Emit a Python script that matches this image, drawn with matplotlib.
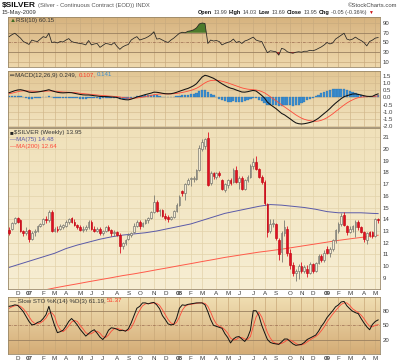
import numpy as np
import pandas as pd
import matplotlib
matplotlib.use("Agg")
import matplotlib.pyplot as plt
import matplotlib.dates as mdates

plt.rcParams['font.family'] = ['Liberation Sans', 'DejaVu Sans']

# weekly bars (week start), Nov 2006 - May 2009
weeks = pd.date_range("2006-11-13", periods=131, freq="7D")

opens = [13.1, 13.2, 13.7, 14.1, 13.9, 13.0, 12.8, 13.1, 12.3, 12.9, 13.0, 13.4, 13.6, 14.0, 13.9, 14.6,
         13.0, 13.2, 13.2, 13.3, 13.4, 13.8, 14.1, 13.8, 13.5, 13.3, 13.1, 13.2, 13.3, 13.8, 13.2, 13.0,
         13.2, 12.8, 13.0, 13.3, 13.1, 12.8, 12.9, 12.7, 11.7, 12.0, 12.3, 12.7, 12.9, 13.4, 13.8, 13.4,
         13.7, 13.9, 14.1, 14.6, 15.5, 14.7, 14.8, 14.3, 14.2, 14.0, 14.2, 14.7, 15.2, 16.4, 16.2, 17.0,
         17.4, 17.4, 17.4, 18.2, 20.0, 20.2, 20.9, 17.1, 17.9, 17.6, 17.9, 17.3, 16.5, 16.9, 17.3, 17.2,
         18.2, 17.2, 17.5, 16.6, 17.3, 17.6, 18.5, 18.9, 18.3, 17.6, 17.2, 15.3, 13.0, 13.6, 13.6, 12.2,
         11.2, 12.8, 13.2, 11.1, 10.1, 9.4, 9.6, 10.0, 9.6, 9.8, 9.4, 10.2, 9.6, 10.3, 10.9, 10.5,
         11.5, 11.1, 11.5, 12.2, 13.0, 13.6, 14.4, 13.4, 12.9, 13.2, 13.3, 13.8, 13.3, 12.9, 12.2, 12.9,
         12.9, 12.6, 14.0]
highs = [13.3, 13.8, 14.2, 14.2, 14.0, 13.1, 13.3, 13.2, 13.0, 13.2, 13.5, 13.7, 14.1, 14.3, 14.8, 14.8,
         13.3, 13.4, 13.6, 13.6, 13.9, 14.1, 14.2, 14.0, 13.6, 13.5, 13.4, 13.5, 13.9, 13.9, 13.4, 13.3,
         13.3, 13.1, 13.4, 13.5, 13.2, 13.1, 13.0, 12.8, 12.1, 12.3, 12.8, 12.9, 13.7, 13.9, 13.9, 13.8,
         14.0, 14.2, 14.7, 16.1, 15.6, 14.9, 14.9, 14.5, 14.4, 14.3, 14.8, 15.4, 16.1, 16.5, 17.1, 17.5,
         17.6, 17.7, 18.3, 20.3, 20.8, 20.9, 21.4, 18.1, 18.0, 18.0, 18.1, 17.4, 17.1, 17.4, 17.5, 18.4,
         18.5, 17.7, 17.7, 17.4, 17.8, 18.7, 19.2, 19.4, 18.4, 17.8, 17.3, 15.4, 14.0, 14.0, 13.7, 12.4,
         13.0, 13.9, 13.4, 11.5, 10.4, 9.8, 10.2, 10.4, 10.1, 10.1, 10.4, 10.3, 10.4, 11.0, 11.0, 11.4,
         11.7, 11.6, 12.3, 13.2, 13.8, 14.5, 14.6, 13.5, 13.4, 13.5, 13.9, 13.9, 13.4, 13.0, 12.9, 13.0,
         13.0, 14.1, 14.1]
lows = [12.7, 13.1, 13.6, 13.7, 12.9, 12.6, 12.7, 12.1, 12.2, 12.6, 12.9, 13.3, 13.5, 13.7, 13.8, 12.9,
        12.9, 12.9, 13.1, 13.2, 13.3, 13.6, 13.7, 13.4, 13.2, 13.0, 12.9, 13.0, 13.2, 13.1, 12.9, 12.9,
        12.7, 12.7, 12.9, 13.0, 12.6, 12.6, 12.6, 11.1, 11.5, 11.8, 12.2, 12.5, 12.8, 13.3, 13.2, 13.3,
        13.6, 13.7, 14.0, 14.5, 14.6, 14.3, 14.2, 13.9, 13.8, 13.9, 14.1, 14.6, 15.1, 16.0, 15.6, 16.9,
        16.8, 17.2, 17.3, 18.1, 19.8, 20.0, 16.8, 16.9, 17.4, 17.4, 17.6, 16.5, 16.3, 16.7, 16.9, 17.1,
        17.1, 16.6, 16.5, 16.5, 17.2, 17.5, 18.3, 18.2, 17.5, 17.0, 15.2, 12.5, 12.8, 13.3, 12.2, 10.5,
        10.4, 12.6, 10.9, 9.8, 9.2, 8.7, 8.9, 9.4, 9.4, 9.1, 9.3, 9.4, 9.5, 10.2, 10.4, 10.4,
        11.0, 10.8, 11.3, 12.0, 12.8, 13.4, 13.4, 12.7, 12.8, 12.9, 12.5, 13.1, 12.8, 12.1, 11.9, 12.5,
        12.4, 12.5, 13.7]
closes = [12.8, 13.7, 14.1, 13.8, 13.0, 12.8, 13.0, 12.3, 12.8, 13.0, 13.4, 13.6, 14.0, 13.9, 14.6, 13.0,
          13.2, 13.1, 13.4, 13.5, 13.8, 14.0, 13.8, 13.5, 13.3, 13.1, 13.2, 13.3, 13.8, 13.2, 13.0, 13.2,
          12.8, 13.0, 13.3, 13.1, 12.8, 12.9, 12.7, 11.7, 12.0, 12.2, 12.7, 12.8, 13.4, 13.8, 13.4, 13.7,
          13.9, 14.1, 14.6, 15.5, 14.7, 14.8, 14.3, 14.1, 14.0, 14.2, 14.7, 15.2, 15.9, 16.2, 17.0, 17.3,
          17.5, 17.5, 18.2, 20.1, 20.6, 20.8, 16.9, 17.9, 17.7, 17.9, 17.8, 16.6, 17.0, 17.3, 17.1, 18.2,
          17.2, 17.5, 16.6, 17.3, 17.6, 18.5, 18.9, 18.3, 17.6, 17.2, 15.4, 12.9, 13.6, 13.7, 12.4, 11.0,
          12.8, 13.3, 11.1, 10.1, 9.4, 9.6, 10.0, 9.6, 9.9, 9.4, 10.2, 9.6, 10.3, 10.9, 10.5, 11.1,
          11.1, 11.5, 12.2, 13.1, 13.6, 14.3, 13.5, 12.9, 13.2, 13.4, 13.8, 13.3, 12.9, 12.3, 12.8, 12.7,
          12.6, 14.0, 13.95]

# moving averages, read every 4th week plus the last one
ma_idx = list(range(0, 131, 4)) + [130]
ma75 = [9.9, 10.2, 10.5, 10.8, 11.1, 11.5, 11.8, 12.05, 12.3, 12.5, 12.65, 12.75, 12.85, 13.0, 13.2, 13.4,
        13.6, 13.9, 14.2, 14.5, 14.7, 14.9, 15.1, 15.25, 15.2, 15.1, 15.0, 14.85, 14.65, 14.55, 14.55, 14.55,
        14.5, 14.48]
ma200 = [np.nan, np.nan, np.nan, 7.95, 8.15, 8.33, 8.5, 8.68, 8.85, 9.02, 9.2, 9.35, 9.52, 9.7, 9.87, 10.05,
         10.22, 10.4, 10.57, 10.75, 10.9, 11.05, 11.2, 11.32, 11.45, 11.6, 11.75, 11.9, 12.05, 12.2, 12.33, 12.45,
         12.57, 12.64]

rsi = [62, 66, 69, 64, 59, 52, 49, 46, 55, 53, 52, 57, 62, 60, 69, 50, 51, 49, 52, 51, 55, 58, 52, 50, 49, 48,
       47, 45, 54, 45, 47, 48, 40, 44, 48, 47, 45, 50, 42, 36, 41, 44, 46, 55, 59, 62, 55, 57, 59, 62, 66, 72,
       57, 58, 55, 52, 50, 55, 59, 64, 69, 71, 70, 73, 74, 76, 80, 88, 90, 89, 48, 55, 53, 54, 52, 45, 48, 50,
       52, 57, 50, 52, 48, 53, 55, 58, 61, 55, 53, 52, 40, 29, 33, 32, 31, 24, 38, 36, 31, 29, 28, 30, 31, 30,
       32, 32, 34, 33, 35, 38, 41, 45, 50, 47, 49, 57, 61, 65, 69, 57, 55, 57, 61, 57, 54, 50, 43, 52, 55, 59,
       60.15]

macd = [0.33, 0.40, 0.47, 0.52, 0.54, 0.50, 0.44, 0.37, 0.35, 0.36, 0.38, 0.41, 0.45, 0.49, 0.54, 0.47, 0.41,
        0.36, 0.33, 0.32, 0.33, 0.34, 0.33, 0.29, 0.25, 0.21, 0.18, 0.17, 0.17, 0.15, 0.12, 0.10, 0.07, 0.06,
        0.06, 0.05, 0.03, 0.02, 0.00, -0.08, -0.13, -0.16, -0.17, -0.12, -0.05, 0.03, 0.08, 0.14, 0.20, 0.25,
        0.30, 0.37, 0.36, 0.33, 0.29, 0.26, 0.25, 0.26, 0.30, 0.36, 0.43, 0.50, 0.57, 0.63, 0.72, 0.82, 0.96,
        1.20, 1.43, 1.55, 1.50, 1.42, 1.34, 1.22, 1.08, 0.95, 0.84, 0.73, 0.65, 0.60, 0.52, 0.45, 0.38, 0.37,
        0.40, 0.45, 0.49, 0.45, 0.30, 0.14, -0.05, -0.33, -0.50, -0.64, -0.78, -0.95, -1.12, -1.22, -1.36,
        -1.50, -1.65, -1.78, -1.84, -1.86, -1.84, -1.80, -1.75, -1.69, -1.58, -1.45, -1.28, -1.12, -0.96,
        -0.78, -0.58, -0.40, -0.24, -0.08, 0.05, 0.12, 0.18, 0.24, 0.25, 0.21, 0.17, 0.12, 0.08, 0.07, 0.08,
        0.18, 0.249]
signal = [0.26, 0.30, 0.35, 0.40, 0.44, 0.46, 0.46, 0.45, 0.44, 0.43, 0.42, 0.42, 0.43, 0.44, 0.45, 0.45,
          0.44, 0.42, 0.40, 0.38, 0.37, 0.36, 0.35, 0.34, 0.32, 0.29, 0.27, 0.25, 0.23, 0.21, 0.19, 0.17,
          0.15, 0.13, 0.12, 0.10, 0.09, 0.07, 0.06, 0.03, 0.00, -0.03, -0.05, -0.06, -0.06, -0.04, -0.01,
          0.02, 0.06, 0.10, 0.14, 0.19, 0.22, 0.24, 0.25, 0.25, 0.25, 0.25, 0.26, 0.28, 0.31, 0.35, 0.39,
          0.44, 0.49, 0.56, 0.64, 0.75, 0.89, 1.02, 1.12, 1.18, 1.20, 1.20, 1.18, 1.13, 1.08, 1.02, 0.95,
          0.88, 0.81, 0.74, 0.67, 0.62, 0.58, 0.56, 0.54, 0.52, 0.48, 0.41, 0.32, 0.19, 0.05, -0.09, -0.23,
          -0.37, -0.52, -0.66, -0.80, -0.94, -1.08, -1.22, -1.34, -1.45, -1.53, -1.59, -1.63, -1.66, -1.67,
          -1.65, -1.60, -1.52, -1.42, -1.29, -1.15, -0.99, -0.84, -0.68, -0.53, -0.39, -0.27, -0.17, -0.08,
          -0.02, 0.02, 0.04, 0.05, 0.06, 0.06, 0.08, 0.107]

sto_k = [89, 90, 92, 91, 85, 78, 68, 58, 51, 52, 56, 58, 64, 72, 89, 68, 50, 35, 37, 40, 48, 58, 64, 58, 51,
         42, 35, 28, 33, 38, 41, 34, 26, 21, 28, 40, 45, 44, 42, 39, 40, 38, 43, 55, 70, 85, 89, 96, 96, 94,
         96, 97, 92, 84, 70, 62, 53, 51, 52, 65, 85, 92, 91, 93, 94, 95, 96, 96, 96, 92, 78, 62, 50, 48, 46,
         44, 33, 25, 14, 22, 26, 27, 22, 17, 25, 40, 80, 80, 70, 50, 35, 21, 15, 13, 12, 11, 16, 22, 22, 17,
         12, 9, 10, 11, 15, 21, 24, 27, 30, 38, 48, 56, 66, 73, 80, 88, 92, 98, 99, 90, 84, 79, 76, 74, 64,
         55, 47, 41, 52, 58, 61.19]
sto_d = [85, 88, 90, 91, 89, 84, 77, 68, 59, 54, 53, 55, 59, 65, 75, 76, 69, 51, 41, 37, 42, 49, 57, 60, 58,
         50, 43, 35, 32, 33, 37, 38, 34, 27, 25, 30, 38, 43, 44, 42, 40, 39, 40, 45, 56, 70, 81, 90, 94, 95,
         95, 96, 95, 91, 82, 72, 62, 55, 52, 56, 67, 81, 89, 92, 93, 94, 95, 96, 96, 95, 89, 77, 63, 53, 48,
         46, 41, 34, 24, 20, 21, 25, 25, 22, 21, 27, 48, 67, 77, 67, 52, 35, 24, 16, 13, 12, 13, 16, 20, 20,
         17, 13, 10, 10, 12, 16, 20, 24, 27, 32, 39, 47, 57, 65, 73, 80, 87, 93, 96, 96, 91, 84, 80, 76, 71,
         64, 55, 48, 47, 50, 51.37]

W, H = 400, 363
fig = plt.figure(figsize=(W / 100, H / 100), dpi=100)
fig.patch.set_facecolor('white')
renderer = fig.canvas.get_renderer()


def panel(y0, y1):
    return fig.add_axes([8 / W, 1 - y1 / H, 372 / W, (y1 - y0) / H])


def shade(ax, top, bottom):
    t = np.linspace(0, 1, 64)[:, None, None]
    img = (np.array(top)[None, None, :] * (1 - t) + np.array(bottom)[None, None, :] * t) / 255.0
    ax.imshow(img, extent=[0, 1, 0, 1], transform=ax.transAxes, aspect='auto', zorder=0,
              interpolation='bilinear')


def chain(xp, yp, parts, size=4.4, gap=1.5, zorder=10):
    # write text pieces one after the other, in figure pixels from top-left
    for s, color, bold, fs in parts:
        t = fig.text(xp / W, 1 - yp / H, s, fontsize=fs or size, color=color, va='center',
                     fontweight='bold' if bold else 'normal', zorder=zorder)
        bb = t.get_window_extent(renderer)
        xp = bb.x1 + gap


x = mdates.date2num(weeks)
x0 = mdates.date2num(pd.Timestamp("2007-01-01") - pd.Timedelta(days=51.8))
x1 = mdates.date2num(pd.Timestamp("2007-01-01") + pd.Timedelta(days=865.6))

# month gridlines at the first bar of each month
mpos, mlab = [], []
for i in range(1, len(weeks)):
    if weeks[i].month != weeks[i - 1].month:
        mpos.append(x[i])
        mlab.append(str(weeks[i].year)[2:] if weeks[i].month == 1 else "JFMAMJJASOND"[weeks[i].month - 1])

ax_rsi = panel(17, 67)
ax_macd = panel(71, 127)
ax_px = panel(128, 289)
ax_sto = panel(297, 354)

shade(ax_rsi, (214, 178, 126), (238, 216, 172))
shade(ax_macd, (226, 198, 148), (242, 228, 192))
shade(ax_px, (240, 225, 186), (247, 238, 211))
shade(ax_sto, (240, 222, 178), (212, 172, 118))

for ax, grid_c in [(ax_rsi, '#c9ab7e'), (ax_macd, '#d2b88c'), (ax_px, '#e2d2aa'), (ax_sto, '#c9a878')]:
    ax.set_xlim(x0, x1)
    for p in mpos:
        ax.axvline(p, color=grid_c, lw=0.5, zorder=1)
    for s in ax.spines.values():
        s.set_color('#9a8868')
        s.set_linewidth(0.6)
    ax.yaxis.tick_right()
    ax.tick_params(axis='y', length=0, pad=2, labelsize=4.3, labelcolor='#3a3a3a')
    ax.tick_params(axis='x', length=0, pad=1.2, labelsize=4.5, labelcolor='#3a3a3a')
    ax.set_xticks(mpos)
    ax.set_xticklabels([])

# ---- RSI ----
ax_rsi.set_ylim(-0.3, 102.3)
ax_rsi.set_yticks([10, 30, 50, 70, 90])
for v in (10, 90):
    ax_rsi.axhline(v, color='#c9ab7e', lw=0.5, zorder=1)
ax_rsi.axhline(70, color='#9a8060', lw=0.6, zorder=1)
ax_rsi.axhline(30, color='#9a8060', lw=0.6, zorder=1)
ax_rsi.axhline(50, color='#9a6a50', lw=0.5, ls=(0, (4, 1.5, 1, 1.5)), zorder=1)
r = np.array(rsi, dtype=float)
ax_rsi.fill_between(x, r, 70, where=r > 70, interpolate=True, color='#4c7a2c', zorder=2, lw=0)
ax_rsi.fill_between(x, r, 30, where=r < 30, interpolate=True, color='#b02020', zorder=2, lw=0)
ax_rsi.plot(x, r, color='#222222', lw=0.55, zorder=3)

# ---- MACD ----
ax_macd.set_ylim(-2.07, 1.85)
mt = [-2.0, -1.5, -1.0, -0.5, 0.0, 0.5, 1.0, 1.5]
ax_macd.set_yticks(mt)
ax_macd.set_yticklabels(["%.1f" % v for v in mt])
for v in mt:
    ax_macd.axhline(v, color='#d2b88c', lw=0.4, zorder=1)
m = np.array(macd)
sg = np.array(signal)
ax_macd.bar(x, m - sg, width=5.5, color='#3a8ccc', edgecolor='#2a70b0', lw=0.2, zorder=2)
ax_macd.plot(x, sg, color='#ff4a3a', lw=0.6, zorder=3)
ax_macd.plot(x, m, color='#111111', lw=0.75, zorder=4)

# ---- price ----
ax_px.set_ylim(8.06, 21.77)
ax_px.set_yticks(range(9, 22))
for v in range(9, 22):
    ax_px.axhline(v, color='#e2d2aa', lw=0.5, zorder=1)
ax_px.plot(x[ma_idx], ma75, color='#5a5aa8', lw=0.7, zorder=2)
ax_px.plot(x[ma_idx], ma200, color='#ff5a4a', lw=0.7, zorder=2)
for xi, o, h, l, c in zip(x, opens, highs, lows, closes):
    down = c < o
    col = '#dd1020' if down else '#7a7a72'
    ax_px.vlines(xi, l, h, color=col, lw=0.6, zorder=3)
    ax_px.bar(xi, max(abs(c - o), 0.04), bottom=min(o, c), width=4.3,
              color='#e01020' if down else '#f4ecd6', edgecolor='#c00a18' if down else '#6e6e68',
              lw=0.45, zorder=4)
ax_px.set_xticklabels(mlab)

# ---- slow stochastic ----
ax_sto.set_ylim(-8.7, 108.1)
ax_sto.set_yticks([20, 50, 80])
ax_sto.axhline(80, color='#9a8060', lw=0.6, zorder=1)
ax_sto.axhline(20, color='#9a8060', lw=0.6, zorder=1)
ax_sto.axhline(50, color='#9a6a50', lw=0.5, ls=(0, (4, 1.5, 1, 1.5)), zorder=1)
ax_sto.plot(x, sto_d, color='#ff4a3a', lw=0.6, zorder=2)
ax_sto.plot(x, sto_k, color='#111111', lw=0.7, zorder=3)
ax_sto.set_xticklabels(mlab)

for ax in (ax_px, ax_sto):
    for t, lab in zip(ax.get_xticklabels(), mlab):
        if lab.isdigit():
            t.set_fontweight('bold')

# ---- panel legends ----
chain(9.5, 20.5, [("\u25b2", '#3f6b22', False, None), ("RSI(10) 60.15", '#333333', False, None)], gap=0.8)
chain(9.5, 75, [("\u2550 MACD(12,26,9) 0.249,", '#333333', False, None), ("0.107,", '#ff3a2a', False, None),
                ("0.141", '#3a8ccc', False, None)])
chain(9.5, 132.5, [("\u25a0", '#222222', False, None), ("$SILVER (Weekly) 13.95", '#333333', False, None)], gap=0.8)
chain(9.5, 139.5, [("\u2014MA(75) 14.48", '#5a5aa8', False, None)])
chain(9.5, 146.5, [("\u2014MA(200) 12.64", '#ff4a3a', False, None)])
chain(9.5, 301, [("\u2014 Slow STO %K(14) %D(3) 61.19,", '#333333', False, None), ("51.37", '#ff3a2a', False, None)])

# ---- header ----
chain(2, 5.5, [("$SILVER", '#111111', True, 6.0),
               ("(Silver - Continuous Contract (EOD)) INDX", '#555555', False, 4.2)], gap=2)
chain(2, 12.5, [("15-May-2009", '#333333', False, 4.2)])
fig.text(397 / W, 1 - 5.5 / H, "\u00a9StockCharts.com", fontsize=4.2, color='#444444', va='center', ha='right')
chain(198, 12.5, [("Open", '#111111', True, None), ("13.99", '#444444', False, None),
                  ("High", '#111111', True, None), ("14.03", '#444444', False, None),
                  ("Low", '#111111', True, None), ("13.69", '#444444', False, None),
                  ("Close", '#111111', True, None), ("13.95", '#444444', False, None),
                  ("Chg", '#111111', True, None), ("-0.05 (-0.36%)", '#444444', False, None),
                  ("\u25bc", '#cc1111', False, 3.5)], size=4.0, gap=1.6)

fig.savefig("out.png", dpi=100)
